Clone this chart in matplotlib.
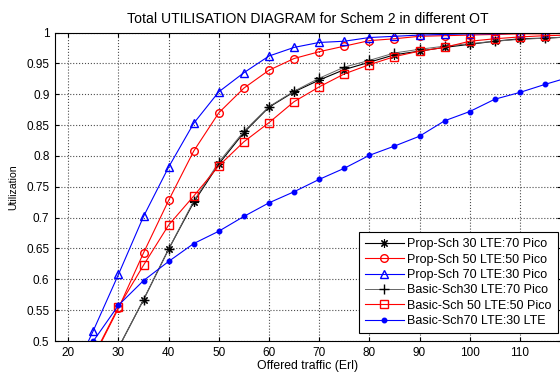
import matplotlib.pyplot as plt
import numpy as np
from matplotlib.ticker import FormatStrFormatter

plt.rcParams['font.family'] = ['Liberation Sans', 'DejaVu Sans']

# offered traffic (Erl)
traffic = [20, 25, 30, 35, 40, 45, 50, 55, 60, 65, 70, 75, 80, 85, 90, 95, 100, 105, 110, 115, 120]

prop30 = [0.42, 0.45, 0.489, 0.567, 0.649, 0.725, 0.787, 0.838, 0.879, 0.904, 0.923, 0.940,
          0.952, 0.964, 0.970, 0.976, 0.981, 0.986, 0.990, 0.991, 0.993]
prop50 = [0.40, 0.473, 0.553, 0.643, 0.728, 0.808, 0.870, 0.910, 0.939, 0.958, 0.969, 0.978,
          0.987, 0.990, 0.994, 0.995, 0.996, 0.997, 0.998, 0.998, 0.999]
prop70 = [0.43, 0.517, 0.608, 0.702, 0.782, 0.853, 0.904, 0.935, 0.962, 0.976, 0.984, 0.986,
          0.992, 0.994, 0.996, 0.997, 0.998, 0.998, 0.999, 1.0, 1.0]
basic30 = [0.42, 0.45, 0.489, 0.567, 0.649, 0.727, 0.790, 0.840, 0.880, 0.905, 0.926, 0.944,
           0.955, 0.967, 0.973, 0.978, 0.982, 0.986, 0.989, 0.991, 0.993]
basic50 = [0.40, 0.475, 0.555, 0.623, 0.688, 0.735, 0.784, 0.823, 0.854, 0.888, 0.912, 0.933,
           0.948, 0.961, 0.970, 0.976, 0.986, 0.990, 0.993, 0.995, 0.996]
basic70 = [None, 0.500, 0.558, 0.598, 0.629, 0.658, 0.678, 0.702, 0.724, 0.742, 0.762, 0.780,
           0.801, 0.816, 0.832, 0.857, 0.872, 0.892, 0.903, 0.916, 0.928]

labels = ['Prop-Sch 30 LTE:70 Pico', 'Prop-Sch 50 LTE:50 Pico', 'Prop-Sch 70 LTE:30 Pico',
          'Basic-Sch30 LTE:70 Pico', 'Basic-Sch 50 LTE:50 Pico', 'Basic-Sch70 LTE:30 LTE']

fig = plt.figure(figsize=(5.6, 3.76), dpi=100)
# right spine sits just past the image edge, like the reference
ax = fig.add_axes([55 / 560, 35 / 376, 506 / 560, 308.4 / 376])

t = np.array(traffic, dtype=float)
ax.plot(t, prop30, '-', color='k', marker=(8, 2, 0), ms=6, mew=0.8, lw=0.8, label=labels[0])
ax.plot(t, prop50, '-o', color='r', mfc='none', ms=5.5, lw=0.8, label=labels[1])
ax.plot(t, prop70, '-^', color='b', mfc='none', ms=6, lw=0.8, label=labels[2])
ax.plot(t, basic30, '-+', color='0.4', mec='k', ms=6.5, lw=0.7, label=labels[3])
ax.plot(t, basic50, '-s', color='r', mfc='none', ms=5.5, lw=0.8, label=labels[4])
b70 = np.array([np.nan if v is None else v for v in basic70])
ax.plot(t, b70, '-', color='b', marker='.', ms=6.5, lw=0.8, label=labels[5])

ax.set_xlim(17.35, 118.2)
ax.set_ylim(0.5, 1.0)
ax.set_xticks(np.arange(20, 111, 10))
ax.set_yticks(np.arange(0.5, 1.001, 0.05))
ax.yaxis.set_major_formatter(FormatStrFormatter('%g'))
ax.tick_params(direction='in', top=True, right=True, labelsize=8.5, length=3, pad=4)
ax.grid(True, color='0.3', ls=':', lw=0.8)
ax.set_axisbelow(True)

ax.set_title('Total UTILISATION DIAGRAM for Schem 2 in different OT', fontsize=10.1, pad=7)
ax.set_xlabel('Offered traffic (Erl)', fontsize=8.8, labelpad=1)
ax.set_ylabel('Utilization', fontsize=7.6, labelpad=6)

leg = ax.legend(loc='lower right', bbox_to_anchor=(0.994, 0.025), borderaxespad=0,
                fontsize=9, fancybox=False, framealpha=1, edgecolor='k',
                handlelength=3.1, labelspacing=0.27, borderpad=0.5, handletextpad=0.3)
leg.get_frame().set_linewidth(0.8)

fig.savefig('out.png', dpi=100)
